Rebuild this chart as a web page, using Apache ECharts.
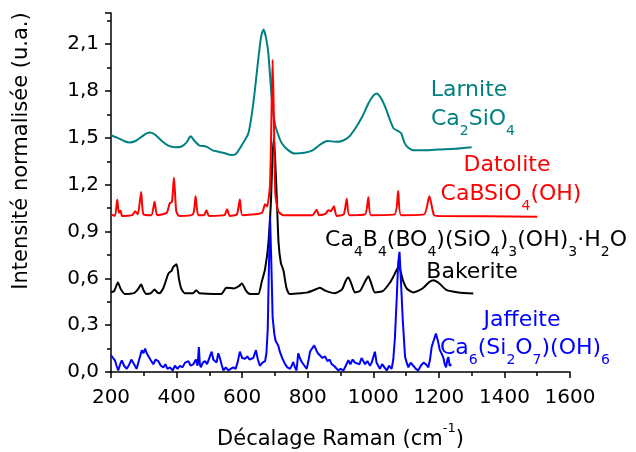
<!DOCTYPE html>
<html>
<head>
<meta charset="utf-8">
<script src="https://cdn.jsdelivr.net/npm/echarts@6/dist/echarts.min.js"></script>
<style>html,body{margin:0;padding:0;background:#fff}#c{width:636px;height:452px}</style>
</head>
<body>
<div id="c"></div>
<script>
// Raman shift (cm-1), normalised intensity (offset)
const larnite = [[200,1.517],[220,1.50],[240,1.48],[255,1.47],[275,1.48],[295,1.51],[310,1.53],[320,1.535],[335,1.52],[355,1.48],[375,1.45],[395,1.44],[415,1.445],[430,1.47],[443,1.51],[455,1.48],[470,1.45],[490,1.445],[510,1.42],[530,1.41],[550,1.40],[565,1.39],[580,1.395],[598,1.45],[619,1.53],[634,1.72],[649,2.0],[658,2.15],[665,2.195],[672,2.15],[680,2.04],[690,1.76],[700,1.59],[710,1.52],[721,1.466],[741,1.42],[761,1.40],[790,1.405],[815,1.42],[840,1.46],[860,1.48],[885,1.475],[905,1.48],[925,1.505],[945,1.56],[965,1.63],[985,1.72],[1000,1.77],[1010,1.785],[1022,1.76],[1036,1.70],[1050,1.62],[1062,1.56],[1075,1.545],[1085,1.53],[1095,1.47],[1105,1.44],[1125,1.42],[1160,1.42],[1200,1.425],[1250,1.43],[1300,1.44]];

const datolite = [[200,1.01],[212,1.0],[219,1.105],[224,1.02],[229,1.035],[234,1.0],[265,1.005],[274,1.03],[282,1.01],[292,1.154],[299,1.01],[323,1.005],[333,1.09],[341,1.005],[370,1.02],[379,1.08],[386,1.09],[392,1.246],[399,1.03],[408,1.0],[450,1.01],[458,1.126],[466,1.005],[484,1.005],[491,1.037],[499,1.0],[546,1.005],[554,1.043],[562,1.0],[584,1.01],[593,1.105],[601,1.005],[660,1.02],[670,1.075],[676,1.06],[685,1.2],[690,1.7],[693,2.0],[697,1.6],[701,1.15],[710,1.03],[725,1.005],[815,1.005],[827,1.04],[835,1.005],[855,1.015],[863,1.037],[870,1.03],[880,1.062],[888,1.0],[910,1.01],[919,1.11],[927,1.005],[975,1.01],[985,1.12],[993,1.005],[1065,1.01],[1076,1.16],[1085,1.005],[1155,1.01],[1171,1.126],[1185,1.005],[1200,1.0],[1500,0.995]];

const bakerite = [[200,0.51],[210,0.52],[221,0.573],[230,0.53],[242,0.50],[270,0.505],[282,0.53],[292,0.56],[300,0.52],[308,0.50],[322,0.505],[333,0.528],[341,0.51],[348,0.505],[360,0.54],[375,0.63],[385,0.65],[390,0.673],[400,0.69],[407,0.6],[414,0.535],[425,0.505],[450,0.505],[460,0.524],[470,0.505],[536,0.50],[552,0.54],[575,0.535],[590,0.55],[599,0.567],[612,0.52],[624,0.50],[649,0.50],[660,0.58],[670,0.66],[680,0.825],[688,1.1],[692,1.35],[697,1.5],[702,1.3],[706,1.1],[711,0.83],[718,0.7],[726,0.65],[735,0.54],[745,0.50],[780,0.505],[800,0.51],[825,0.53],[837,0.54],[855,0.52],[883,0.505],[905,0.53],[915,0.58],[924,0.605],[934,0.56],[944,0.51],[960,0.52],[975,0.58],[985,0.613],[995,0.56],[1005,0.51],[1030,0.52],[1050,0.57],[1061,0.61],[1078,0.677],[1090,0.59],[1102,0.535],[1122,0.51],[1150,0.535],[1170,0.575],[1183,0.588],[1200,0.57],[1224,0.524],[1260,0.51],[1305,0.503]];

const jaffeite = [[200,0.107],[206,0.09],[212,0.075],[217,0.04],[222,0.01],[228,0.05],[233,0.075],[240,0.04],[248,0.02],[256,0.05],[262,0.08],[268,0.07],[273,0.04],[278,0.02],[286,0.08],[294,0.139],[299,0.12],[304,0.15],[309,0.12],[314,0.13],[320,0.08],[329,0.05],[336,0.08],[344,0.07],[352,0.04],[360,0.03],[366,0.05],[372,0.02],[380,0.03],[388,0.01],[395,0.04],[403,0.02],[410,0.04],[418,0.03],[426,0.06],[436,0.07],[443,0.04],[451,0.05],[459,0.08],[464,0.04],[468,0.16],[471,0.05],[474,0.03],[480,0.06],[487,0.07],[493,0.05],[500,0.09],[507,0.13],[512,0.08],[517,0.09],[522,0.06],[527,0.12],[532,0.09],[537,0.05],[543,0.01],[550,0.03],[558,0.01],[565,0.02],[573,0.03],[580,0.02],[586,0.06],[593,0.13],[600,0.09],[609,0.085],[616,0.1],[622,0.08],[628,0.09],[634,0.09],[642,0.14],[648,0.08],[654,0.04],[662,0.06],[670,0.07],[674,0.12],[678,0.27],[681,0.6],[685,1.0],[689,0.7],[693,0.35],[698,0.246],[702,0.2],[705,0.21],[710,0.17],[715,0.13],[722,0.09],[731,0.05],[738,0.03],[746,0.02],[751,0.04],[756,0.064],[761,0.03],[766,0.01],[771,0.12],[776,0.09],[782,0.064],[790,0.04],[797,0.02],[802,0.07],[807,0.13],[813,0.15],[820,0.17],[826,0.14],[831,0.12],[837,0.107],[845,0.09],[853,0.10],[860,0.07],[867,0.08],[873,0.05],[880,0.04],[886,0.03],[893,0.01],[900,0.02],[909,0.01],[916,0.04],[924,0.075],[930,0.05],[937,0.08],[944,0.06],[950,0.064],[958,0.05],[964,0.09],[970,0.096],[975,0.05],[982,0.07],[990,0.04],[995,0.06],[1000,0.05],[1005,0.13],[1010,0.06],[1015,0.04],[1020,0.02],[1027,0.05],[1034,0.03],[1041,0.01],[1048,0.04],[1056,0.02],[1061,0.08],[1066,0.22],[1071,0.45],[1076,0.7],[1080,0.77],[1084,0.6],[1090,0.33],[1097,0.096],[1102,0.06],[1107,0.03],[1114,0.06],[1122,0.04],[1130,0.02],[1137,0.01],[1145,0.04],[1153,0.06],[1160,0.05],[1168,0.03],[1173,0.08],[1178,0.16],[1184,0.2],[1191,0.246],[1197,0.2],[1203,0.14],[1208,0.12],[1214,0.09],[1218,0.05],[1222,0.03],[1226,0.08],[1229,0.096],[1233,0.04],[1238,0.05]];

const xTicks = {min: 200, max: 1600, interval: 200};
const yTicks = {min: 0, max: 2.3, interval: 0.3};
const xTitle = '{n|Décalage Raman (cm}{sup|-1}{n|)}';
const yTitle = 'Intensité normalisée (u.a.)';
const labels = [
  {text: 'Larnite', color: '#008080', x: 469, y: 91},
  {text: 'Ca{s|2}SiO{s|4}', color: '#008080', x: 473, y: 120},
  {text: 'Datolite', color: '#ff0000', x: 507, y: 166},
  {text: 'CaBSiO{s|4}(OH)', color: '#ff0000', x: 511, y: 195},
  {text: 'Ca{s|4}B{s|4}(BO{s|4})(SiO{s|4}){s|3}(OH){s|3}·H{s|2}O', color: '#000000', x: 476, y: 241},
  {text: 'Bakerite', color: '#000000', x: 472, y: 273},
  {text: 'Jaffeite', color: '#0000ff', x: 522, y: 321},
  {text: 'Ca{s|6}(Si{s|2}O{s|7})(OH){s|6}', color: '#0000ff', x: 525, y: 349}
];

const FONT = 'DejaVu Sans';
const chart = echarts.init(document.getElementById('c'), null, {renderer: 'canvas'});

function richFor(color) {
  return {
    n: {fontFamily: FONT, fontSize: 22, color: color, lineHeight: 24, verticalAlign: 'top'},
    s: {fontFamily: FONT, fontSize: 14, color: color, lineHeight: 30, verticalAlign: 'bottom'}
  };
}

const graphics = labels.map(l => {
  const hasSub = l.text.indexOf('{s|') >= 0;
  const txt = l.text.split(/(\{s\|[^}]*\})/).filter(p => p.length).map(p => p.startsWith('{s|') ? p : '{n|' + p + '}').join('');
  return {
    type: 'text', x: l.x, y: l.y + (hasSub ? 3 : 0),
    style: {text: txt, rich: richFor(l.color), align: 'center', verticalAlign: 'middle', fill: l.color, font: '22px ' + FONT}
  };
});
graphics.push({
  type: 'text', x: 22, y: 151, rotation: Math.PI / 2,
  style: {text: yTitle, align: 'center', verticalAlign: 'middle', fill: '#000', font: '21px ' + FONT}
});

const lineSeries = (name, data, color) => ({
  name, type: 'line', data, showSymbol: false, symbol: 'none',
  lineStyle: {color, width: 2}, smooth: 0.2, animation: false
});

chart.setOption({
  animation: false,
  grid: {left: 111, right: 66, top: 13, bottom: 80, containLabel: false, outerBoundsMode: 'none'},
  xAxis: {
    type: 'value', min: xTicks.min, max: xTicks.max, interval: xTicks.interval,
    axisLine: {lineStyle: {color: '#000', width: 1.5}},
    axisTick: {show: true, inside: false, length: 6, lineStyle: {color: '#000', width: 1.5}},
    minorTick: {show: true, splitNumber: 2, length: 4, lineStyle: {color: '#000', width: 1.5}},
    splitLine: {show: false},
    axisLabel: {color: '#000', fontFamily: FONT, fontSize: 20, margin: 16, formatter: v => String(v)},
    name: xTitle, nameLocation: 'middle', nameGap: 50,
    nameTextStyle: {
      fontFamily: FONT, fontSize: 21, color: '#000',
      rich: {
        n: {fontFamily: FONT, fontSize: 21, color: '#000', lineHeight: 28, verticalAlign: 'bottom'},
        sup: {fontFamily: FONT, fontSize: 13, color: '#000', lineHeight: 28, verticalAlign: 'top'}
      }
    }
  },
  yAxis: {
    type: 'value', min: yTicks.min, max: yTicks.max, interval: yTicks.interval,
    axisLine: {show: true, lineStyle: {color: '#000', width: 1.5}},
    axisTick: {show: true, inside: false, length: 6, lineStyle: {color: '#000', width: 1.5}},
    minorTick: {show: true, splitNumber: 2, length: 4, lineStyle: {color: '#000', width: 1.5}},
    splitLine: {show: false},
    axisLabel: {color: '#000', fontFamily: FONT, fontSize: 20, margin: 12, showMaxLabel: false,
      formatter: v => v.toFixed(1).replace('.', ',')}
  },
  series: [
    lineSeries('Larnite', larnite, '#008080'),
    lineSeries('Bakerite', bakerite, '#000000'),
    Object.assign(lineSeries('Jaffeite', jaffeite, '#0000ff'), {smooth: false}),
    lineSeries('Datolite', datolite, '#ff0000')
  ],
  graphic: graphics
});
</script>
</body>
</html>
